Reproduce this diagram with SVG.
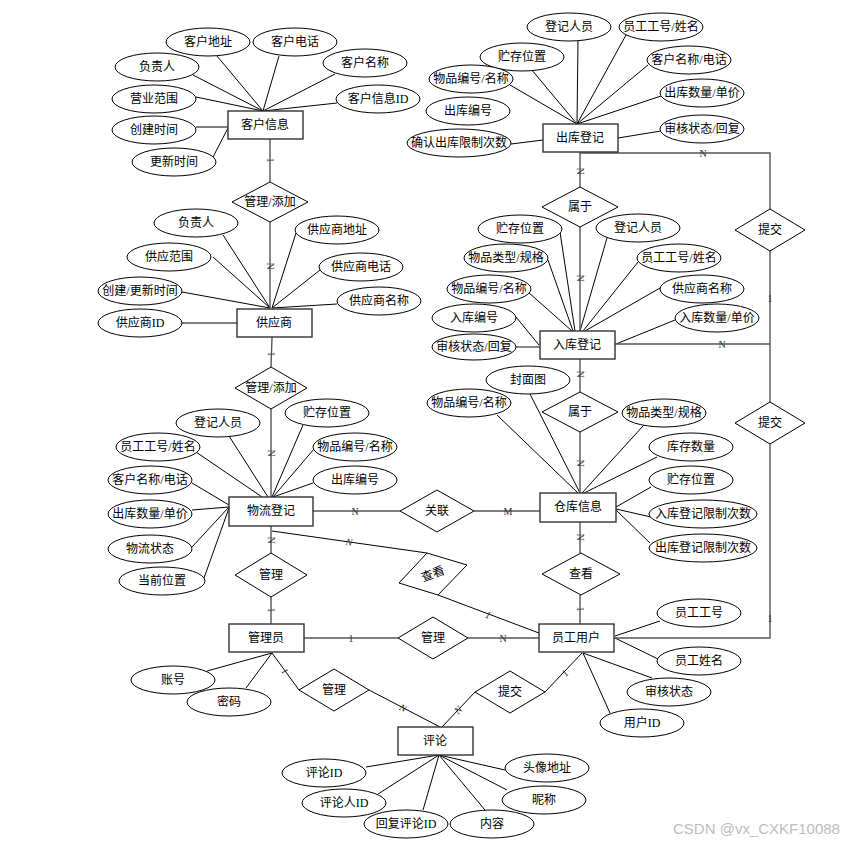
<svg xmlns="http://www.w3.org/2000/svg" width="850" height="843" viewBox="0 0 850 843">
<style>
  .ent { fill: #fff; stroke: #333; stroke-width: 1.4; }
  .att { fill: #fff; stroke: #000; stroke-width: 1; }
  .rel { fill: #fff; stroke: #000; stroke-width: 1; }
  .ln { stroke: #000; stroke-width: 1; fill: none; }
  .ln2 { stroke: #555; stroke-width: 1.4; fill: none; }
  text { font-family: "Liberation Serif", "Noto Sans CJK SC", serif; font-size: 12px; text-anchor: middle; dominant-baseline: central; fill: #000; }
  .card { font-size: 10px; fill: #333; }
  .wm { font-family: "Liberation Sans", "DejaVu Sans", sans-serif; font-size: 15px; fill: #bdbdbd; text-anchor: start; }
</style>
<rect width="850" height="843" fill="#fff"/>

<!-- connectors -->
<g id="connectors">
  <!-- customer attributes -->
  <line class="ln" x1="193" y1="75" x2="263" y2="111"/>
  <line class="ln" x1="217" y1="56" x2="263" y2="111"/>
  <line class="ln" x1="279" y1="56" x2="263" y2="111"/>
  <line class="ln" x1="335" y1="74" x2="263" y2="111"/>
  <line class="ln" x1="196" y1="97" x2="263" y2="111"/>
  <line class="ln" x1="337" y1="103" x2="263" y2="111"/>
  <line class="ln" x1="196" y1="127" x2="228" y2="127"/>
  <line class="ln" x1="213" y1="157" x2="228" y2="128"/>
  <!-- outbound attributes -->
  <line class="ln" x1="578" y1="40" x2="577" y2="124"/>
  <line class="ln" x1="626" y1="35" x2="577" y2="124"/>
  <line class="ln" x1="531" y1="69" x2="577" y2="124"/>
  <line class="ln" x1="648" y1="65" x2="577" y2="124"/>
  <line class="ln" x1="510" y1="85" x2="577" y2="124"/>
  <line class="ln" x1="661" y1="96" x2="577" y2="124"/>
  <line class="ln" x1="511" y1="144" x2="543" y2="140"/>
  <line class="ln" x1="661" y1="131" x2="618" y2="138"/>
  <!-- supplier attributes -->
  <line class="ln" x1="223" y1="235" x2="270" y2="308"/>
  <line class="ln" x1="213" y1="257" x2="270" y2="308"/>
  <line class="ln" x1="182" y1="292" x2="270" y2="308"/>
  <line class="ln" x1="296" y1="233" x2="272" y2="308"/>
  <line class="ln" x1="320" y1="270" x2="272" y2="308"/>
  <line class="ln" x1="337" y1="304" x2="272" y2="308"/>
  <line class="ln2" x1="182" y1="323" x2="237" y2="323"/>
  <!-- inbound attributes -->
  <line class="ln" x1="560" y1="232" x2="575" y2="331"/>
  <line class="ln" x1="548" y1="260" x2="573" y2="331"/>
  <line class="ln" x1="607" y1="238" x2="580" y2="331"/>
  <line class="ln" x1="638" y1="262" x2="583" y2="331"/>
  <line class="ln" x1="528" y1="292" x2="572" y2="331"/>
  <line class="ln" x1="660" y1="288" x2="585" y2="331"/>
  <line class="ln" x1="516" y1="317" x2="539" y2="345"/>
  <line class="ln2" x1="516" y1="347" x2="540" y2="347"/>
  <line class="ln" x1="675" y1="320" x2="616" y2="344"/>
  <!-- warehouse attributes -->
  <line class="ln" x1="530" y1="394" x2="580" y2="493"/>
  <line class="ln" x1="497" y1="415" x2="578" y2="493"/>
  <line class="ln" x1="643" y1="426" x2="582" y2="493"/>
  <line class="ln" x1="657" y1="457" x2="584" y2="493"/>
  <line class="ln" x1="651" y1="487" x2="616" y2="507"/>
  <line class="ln" x1="651" y1="517" x2="616" y2="509"/>
  <line class="ln" x1="650" y1="543" x2="616" y2="510"/>
  <!-- logistics attributes -->
  <line class="ln" x1="229" y1="436" x2="268" y2="497"/>
  <line class="ln" x1="303" y1="425" x2="272" y2="497"/>
  <line class="ln" x1="196" y1="452" x2="262" y2="497"/>
  <line class="ln" x1="314" y1="449" x2="273" y2="497"/>
  <line class="ln" x1="313" y1="483" x2="273" y2="497"/>
  <line class="ln" x1="192" y1="483" x2="229" y2="505"/>
  <line class="ln" x1="192" y1="510" x2="229" y2="507"/>
  <line class="ln" x1="192" y1="547" x2="229" y2="507"/>
  <line class="ln" x1="204" y1="578" x2="229" y2="508"/>
  <!-- admin attributes -->
  <line class="ln" x1="207" y1="671" x2="272" y2="653"/>
  <line class="ln" x1="246" y1="688" x2="272" y2="653"/>
  <!-- staff user attributes -->
  <line class="ln" x1="660" y1="621" x2="615" y2="636"/>
  <line class="ln" x1="660" y1="660" x2="615" y2="638"/>
  <line class="ln" x1="652" y1="678" x2="583" y2="653"/>
  <line class="ln" x1="610" y1="713" x2="583" y2="653"/>
  <!-- comment attributes -->
  <line class="ln" x1="366" y1="767" x2="439" y2="755"/>
  <line class="ln" x1="378" y1="794" x2="439" y2="755"/>
  <line class="ln" x1="423" y1="810" x2="439" y2="755"/>
  <line class="ln" x1="485" y1="810" x2="439" y2="755"/>
  <line class="ln" x1="505" y1="770" x2="439" y2="755"/>
  <line class="ln" x1="507" y1="790" x2="439" y2="755"/>

  <!-- relationship links -->
  <line class="ln2" x1="270" y1="139" x2="270" y2="182"/>
  <line class="ln2" x1="270" y1="222" x2="270" y2="309"/>
  <line class="ln2" x1="272" y1="337" x2="271" y2="367"/>
  <line class="ln2" x1="271" y1="409" x2="271" y2="497"/>
  <line class="ln2" x1="271" y1="526" x2="271" y2="553"/>
  <line class="ln2" x1="271" y1="597" x2="271" y2="624"/>
  <line class="ln2" x1="580" y1="152" x2="580" y2="187"/>
  <line class="ln2" x1="580" y1="227" x2="580" y2="331"/>
  <line class="ln2" x1="580" y1="359" x2="580" y2="392"/>
  <line class="ln2" x1="580" y1="432" x2="580" y2="493"/>
  <line class="ln2" x1="580" y1="522" x2="580" y2="553"/>
  <line class="ln2" x1="580" y1="595" x2="580" y2="624"/>
  <polyline class="ln2" points="580,153 770,153 770,209"/>
  <line class="ln2" x1="770" y1="251" x2="770" y2="402"/>
  <line class="ln2" x1="615" y1="344" x2="770" y2="344"/>
  <polyline class="ln2" points="770,444 770,638 614,638"/>
  <line class="ln2" x1="313" y1="511" x2="400" y2="511"/>
  <line class="ln2" x1="474" y1="511" x2="540" y2="511"/>
  <line class="ln2" x1="304" y1="638" x2="398" y2="638"/>
  <line class="ln2" x1="468" y1="638" x2="539" y2="638"/>
  <line class="ln" x1="272" y1="531" x2="427" y2="553"/>
  <line class="ln" x1="438" y1="595" x2="539" y2="633"/>
  <line class="ln" x1="272" y1="653" x2="299" y2="690"/>
  <line class="ln" x1="369" y1="690" x2="440" y2="727"/>
  <line class="ln" x1="442" y1="727" x2="475" y2="692"/>
  <line class="ln" x1="545" y1="692" x2="582" y2="653"/>

  <!-- cardinalities -->
  <text class="card" transform="translate(270,160) rotate(90)">1</text>
  <text class="card" transform="translate(270,266) rotate(90)">N</text>
  <text class="card" transform="translate(271,354) rotate(90)">1</text>
  <text class="card" transform="translate(271,453) rotate(90)">N</text>
  <text class="card" transform="translate(271,540) rotate(90)">N</text>
  <text class="card" transform="translate(271,610) rotate(90)">1</text>
  <text class="card" transform="translate(580,171) rotate(90)">N</text>
  <text class="card" transform="translate(580,278) rotate(90)">N</text>
  <text class="card" transform="translate(580,374) rotate(90)">N</text>
  <text class="card" transform="translate(580,463) rotate(90)">N</text>
  <text class="card" transform="translate(580,537) rotate(90)">N</text>
  <text class="card" transform="translate(580,609) rotate(90)">1</text>
  <text class="card" x="703" y="153">N</text>
  <text class="card" x="770" y="298">1</text>
  <text class="card" x="722" y="344">N</text>
  <text class="card" x="770" y="618">1</text>
  <text class="card" x="355" y="511">N</text>
  <text class="card" x="508" y="511">M</text>
  <text class="card" x="351" y="638">1</text>
  <text class="card" x="503" y="638">N</text>
  <text class="card" font-style="italic" transform="translate(349,542) rotate(8)">N</text>
  <text class="card" font-style="italic" transform="translate(488,615) rotate(21)">1</text>
  <text class="card" font-style="italic" transform="translate(285,671) rotate(54)">1</text>
  <text class="card" font-style="italic" transform="translate(403,708) rotate(27)">N</text>
  <text class="card" font-style="italic" transform="translate(458,710) rotate(-46)">N</text>
  <text class="card" font-style="italic" transform="translate(565,673) rotate(-47)">1</text>
</g>

<!-- entities -->
<g id="customer"><rect class="ent" x="228" y="111" width="75" height="28"/><text x="265" y="125">客户信息</text></g>
<g id="outbound"><rect class="ent" x="543" y="124" width="75" height="28"/><text x="580" y="138">出库登记</text></g>
<g id="supplier"><rect class="ent" x="237" y="309" width="75" height="28"/><text x="274" y="323">供应商</text></g>
<g id="inbound"><rect class="ent" x="540" y="331" width="75" height="28"/><text x="577" y="345">入库登记</text></g>
<g id="logistics"><rect class="ent" x="229" y="497" width="84" height="29"/><text x="271" y="511">物流登记</text></g>
<g id="warehouse"><rect class="ent" x="540" y="493" width="76" height="29"/><text x="578" y="507">仓库信息</text></g>
<g id="admin"><rect class="ent" x="229" y="624" width="75" height="28"/><text x="266" y="638">管理员</text></g>
<g id="staff"><rect class="ent" x="539" y="624" width="75" height="28"/><text x="576" y="638">员工用户</text></g>
<g id="comment"><rect class="ent" x="398" y="727" width="75" height="28"/><text x="435" y="741">评论</text></g>

<!-- relationships -->
<g id="rel-manage-add-1"><polygon class="rel" points="232,202 270,182 308,202 270,222"/><text x="270" y="202">管理/添加</text></g>
<g id="rel-manage-add-2"><polygon class="rel" points="235,388 271,367 307,388 271,409"/><text x="271" y="388">管理/添加</text></g>
<g id="rel-manage-logistics"><polygon class="rel" points="235,575 271,553 307,575 271,597"/><text x="271" y="575">管理</text></g>
<g id="rel-belong-1"><polygon class="rel" points="542,207 580,187 618,207 580,227"/><text x="580" y="207">属于</text></g>
<g id="rel-submit-1"><polygon class="rel" points="735,230 770,209 805,230 770,251"/><text x="770" y="230">提交</text></g>
<g id="rel-belong-2"><polygon class="rel" points="542,412 580,392 618,412 580,432"/><text x="580" y="412">属于</text></g>
<g id="rel-submit-2"><polygon class="rel" points="735,423 770,402 805,423 770,444"/><text x="770" y="423">提交</text></g>
<g id="rel-link"><polygon class="rel" points="400,511 437,490 474,511 437,532"/><text x="437" y="511">关联</text></g>
<g id="rel-view-1"><polygon class="rel" points="542,574 581,553 620,574 581,595"/><text x="581" y="574">查看</text></g>
<g id="rel-view-2"><polygon class="rel" points="427,553 467,565 438,595 399,583"/><text fill="#555" transform="translate(433,574) rotate(-20)">查看</text></g>
<g id="rel-manage-staff"><polygon class="rel" points="398,638 433,617 468,638 433,659"/><text x="433" y="638">管理</text></g>
<g id="rel-manage-comment"><polygon class="rel" points="299,690 334,669 369,690 334,711"/><text x="334" y="690">管理</text></g>
<g id="rel-submit-comment"><polygon class="rel" points="475,692 510,671 545,692 510,713"/><text x="510" y="692">提交</text></g>

<!-- customer attributes -->
<g id="cust-address"><ellipse class="att" cx="208" cy="42" rx="42" ry="14"/><text x="208" y="42">客户地址</text></g>
<g id="cust-phone"><ellipse class="att" cx="295" cy="42" rx="42" ry="14"/><text x="295" y="42">客户电话</text></g>
<g id="cust-owner"><ellipse class="att" cx="157" cy="67" rx="42" ry="14"/><text x="157" y="67">负责人</text></g>
<g id="cust-name"><ellipse class="att" cx="365" cy="63" rx="42" ry="14"/><text x="365" y="63">客户名称</text></g>
<g id="cust-scope"><ellipse class="att" cx="154" cy="99" rx="42" ry="14"/><text x="154" y="99">营业范围</text></g>
<g id="cust-id"><ellipse class="att" cx="378" cy="99" rx="42" ry="14"/><text x="378" y="99">客户信息ID</text></g>
<g id="cust-created"><ellipse class="att" cx="154" cy="130" rx="42" ry="14"/><text x="154" y="130">创建时间</text></g>
<g id="cust-updated"><ellipse class="att" cx="174" cy="162" rx="42" ry="14"/><text x="174" y="162">更新时间</text></g>

<!-- outbound attributes -->
<g id="out-registrar"><ellipse class="att" cx="569" cy="27" rx="42" ry="14"/><text x="569" y="27">登记人员</text></g>
<g id="out-staff"><ellipse class="att" cx="661" cy="27" rx="42" ry="14"/><text x="661" y="27">员工工号/姓名</text></g>
<g id="out-location"><ellipse class="att" cx="522" cy="57" rx="42" ry="14"/><text x="522" y="57">贮存位置</text></g>
<g id="out-customer"><ellipse class="att" cx="689" cy="60" rx="42" ry="14"/><text x="689" y="60">客户名称/电话</text></g>
<g id="out-item"><ellipse class="att" cx="471" cy="79" rx="42" ry="14"/><text x="471" y="79">物品编号/名称</text></g>
<g id="out-qty"><ellipse class="att" cx="702" cy="93" rx="42" ry="14"/><text x="702" y="93">出库数量/单价</text></g>
<g id="out-no"><ellipse class="att" cx="468" cy="111" rx="42" ry="14"/><text x="468" y="111">出库编号</text></g>
<g id="out-review"><ellipse class="att" cx="702" cy="129" rx="42" ry="14"/><text x="702" y="129">审核状态/回复</text></g>
<g id="out-limit"><ellipse class="att" cx="459" cy="143" rx="52" ry="14"/><text x="459" y="143">确认出库限制次数</text></g>

<!-- supplier attributes -->
<g id="sup-owner"><ellipse class="att" cx="196" cy="223" rx="42" ry="14"/><text x="196" y="223">负责人</text></g>
<g id="sup-address"><ellipse class="att" cx="337" cy="230" rx="42" ry="14"/><text x="337" y="230">供应商地址</text></g>
<g id="sup-scope"><ellipse class="att" cx="169" cy="257" rx="42" ry="14"/><text x="169" y="257">供应范围</text></g>
<g id="sup-phone"><ellipse class="att" cx="361" cy="267" rx="42" ry="14"/><text x="361" y="267">供应商电话</text></g>
<g id="sup-time"><ellipse class="att" cx="140" cy="291" rx="42" ry="14"/><text x="140" y="291">创建/更新时间</text></g>
<g id="sup-name"><ellipse class="att" cx="379" cy="301" rx="42" ry="14"/><text x="379" y="301">供应商名称</text></g>
<g id="sup-id"><ellipse class="att" cx="140" cy="323" rx="42" ry="14"/><text x="140" y="323">供应商ID</text></g>

<!-- inbound attributes -->
<g id="in-location"><ellipse class="att" cx="520" cy="229" rx="42" ry="14"/><text x="520" y="229">贮存位置</text></g>
<g id="in-registrar"><ellipse class="att" cx="638" cy="228" rx="42" ry="14"/><text x="638" y="228">登记人员</text></g>
<g id="in-type"><ellipse class="att" cx="506" cy="258" rx="42" ry="14"/><text x="506" y="258">物品类型/规格</text></g>
<g id="in-staff"><ellipse class="att" cx="679" cy="258" rx="42" ry="14"/><text x="679" y="258">员工工号/姓名</text></g>
<g id="in-item"><ellipse class="att" cx="489" cy="289" rx="42" ry="14"/><text x="489" y="289">物品编号/名称</text></g>
<g id="in-supplier"><ellipse class="att" cx="702" cy="289" rx="42" ry="14"/><text x="702" y="289">供应商名称</text></g>
<g id="in-no"><ellipse class="att" cx="474" cy="318" rx="42" ry="14"/><text x="474" y="318">入库编号</text></g>
<g id="in-qty"><ellipse class="att" cx="717" cy="318" rx="42" ry="14"/><text x="717" y="318">入库数量/单价</text></g>
<g id="in-review"><ellipse class="att" cx="474" cy="347" rx="42" ry="13"/><text x="474" y="347">审核状态/回复</text></g>

<!-- warehouse attributes -->
<g id="wh-cover"><ellipse class="att" cx="528" cy="380" rx="42" ry="14"/><text x="528" y="380">封面图</text></g>
<g id="wh-item"><ellipse class="att" cx="469" cy="403" rx="42" ry="14"/><text x="469" y="403">物品编号/名称</text></g>
<g id="wh-type"><ellipse class="att" cx="664" cy="413" rx="42" ry="14"/><text x="664" y="413">物品类型/规格</text></g>
<g id="wh-stock"><ellipse class="att" cx="691" cy="447" rx="42" ry="14"/><text x="691" y="447">库存数量</text></g>
<g id="wh-location"><ellipse class="att" cx="691" cy="480" rx="42" ry="14"/><text x="691" y="480">贮存位置</text></g>
<g id="wh-in-limit"><ellipse class="att" cx="703" cy="514" rx="54" ry="14"/><text x="703" y="514">入库登记限制次数</text></g>
<g id="wh-out-limit"><ellipse class="att" cx="703" cy="548" rx="54" ry="14"/><text x="703" y="548">出库登记限制次数</text></g>

<!-- logistics attributes -->
<g id="lg-registrar"><ellipse class="att" cx="218" cy="423" rx="42" ry="14"/><text x="218" y="423">登记人员</text></g>
<g id="lg-location"><ellipse class="att" cx="327" cy="413" rx="42" ry="14"/><text x="327" y="413">贮存位置</text></g>
<g id="lg-staff"><ellipse class="att" cx="158" cy="447" rx="42" ry="14"/><text x="158" y="447">员工工号/姓名</text></g>
<g id="lg-item"><ellipse class="att" cx="355" cy="447" rx="42" ry="14"/><text x="355" y="447">物品编号/名称</text></g>
<g id="lg-customer"><ellipse class="att" cx="150" cy="480" rx="42" ry="14"/><text x="150" y="480">客户名称/电话</text></g>
<g id="lg-out-no"><ellipse class="att" cx="355" cy="480" rx="42" ry="14"/><text x="355" y="480">出库编号</text></g>
<g id="lg-qty"><ellipse class="att" cx="150" cy="514" rx="42" ry="14"/><text x="150" y="514">出库数量/单价</text></g>
<g id="lg-status"><ellipse class="att" cx="150" cy="549" rx="42" ry="14"/><text x="150" y="549">物流状态</text></g>
<g id="lg-position"><ellipse class="att" cx="162" cy="581" rx="43" ry="14"/><text x="162" y="581">当前位置</text></g>

<!-- admin attributes -->
<g id="adm-account"><ellipse class="att" cx="173" cy="680" rx="42" ry="14"/><text x="173" y="680">账号</text></g>
<g id="adm-password"><ellipse class="att" cx="229" cy="702" rx="42" ry="14"/><text x="229" y="702">密码</text></g>

<!-- staff user attributes -->
<g id="st-no"><ellipse class="att" cx="699" cy="613" rx="42" ry="14"/><text x="699" y="613">员工工号</text></g>
<g id="st-name"><ellipse class="att" cx="699" cy="661" rx="42" ry="14"/><text x="699" y="661">员工姓名</text></g>
<g id="st-review"><ellipse class="att" cx="669" cy="692" rx="42" ry="14"/><text x="669" y="692">审核状态</text></g>
<g id="st-id"><ellipse class="att" cx="642" cy="723" rx="42" ry="14"/><text x="642" y="723">用户ID</text></g>

<!-- comment attributes -->
<g id="cm-id"><ellipse class="att" cx="324" cy="773" rx="42" ry="14"/><text x="324" y="773">评论ID</text></g>
<g id="cm-author"><ellipse class="att" cx="344" cy="803" rx="42" ry="14"/><text x="344" y="803">评论人ID</text></g>
<g id="cm-reply"><ellipse class="att" cx="406" cy="824" rx="42" ry="14"/><text x="406" y="824">回复评论ID</text></g>
<g id="cm-content"><ellipse class="att" cx="492" cy="824" rx="42" ry="14"/><text x="492" y="824">内容</text></g>
<g id="cm-avatar"><ellipse class="att" cx="547" cy="768" rx="42" ry="14"/><text x="547" y="768">头像地址</text></g>
<g id="cm-nick"><ellipse class="att" cx="544" cy="800" rx="42" ry="14"/><text x="544" y="800">昵称</text></g>

<text class="wm" x="673" y="828">CSDN @vx_CXKF10088</text>
</svg>
